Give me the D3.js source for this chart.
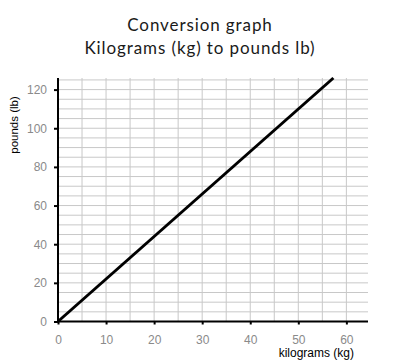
<!DOCTYPE html>
<html><head><meta charset="utf-8">
<script src="https://cdn.jsdelivr.net/npm/d3@7"></script>
<style>body{margin:0;background:#fff}</style>
</head><body>
<svg id="c" width="400" height="360"></svg>
<script>
const titleLines = ["Conversion graph", "Kilograms (kg) to pounds lb)"];
const kg = [0, 57.3];
const lb = [0, 126];
const xTicks = [0, 10, 20, 30, 40, 50, 60];
const yTicks = [0, 20, 40, 60, 80, 100, 120];
const xGrid = [5, 10, 15, 20, 25, 30, 35, 40, 45, 50, 55, 60];
const yGrid = [5,10,15,20,25,30,35,40,45,50,55,60,65,70,75,80,85,90,95,100,105,110,115,120,125];

const svg = d3.select("#c");
const L = 58, R = 368, T = 78, B = 321.5;
const x = d3.scaleLinear().domain([0, 64.5]).range([L, R]);
const y = d3.scaleLinear().domain([0, 126]).range([B, T]);

const font = "'Liberation Sans', Calibri, sans-serif";
titleLines.forEach((t, i) => {
  svg.append("text").attr("x", 200).attr("y", 31 + i * 23).attr("text-anchor", "middle")
    .attr("font-family", "Lato, sans-serif").attr("font-weight", 400)
    .attr("font-size", 17).attr("letter-spacing", 0.9).attr("fill", "#1a1a1a")
    .text(t);
});

const g = svg.append("g");
g.selectAll("line.xg").data(xGrid).join("line").attr("class","xg")
  .attr("x1", d => x(d)).attr("x2", d => x(d)).attr("y1", T).attr("y2", B)
  .attr("stroke", "#c8c8c8").attr("stroke-width", 1);
g.selectAll("line.yg").data(yGrid).join("line").attr("class","yg")
  .attr("x1", L).attr("x2", R).attr("y1", d => y(d)).attr("y2", d => y(d))
  .attr("stroke", "#c8c8c8").attr("stroke-width", 1);

const line = d3.line().x(d => x(d[0])).y(d => y(d[1]));
svg.append("path").datum(kg.map((k, i) => [k, lb[i]]))
  .attr("d", line).attr("fill", "none").attr("stroke", "#000").attr("stroke-width", 3);

const xa = svg.append("g").attr("transform", `translate(0,${B})`)
  .call(d3.axisBottom(x).tickValues(xTicks).tickSize(3).tickPadding(11));
xa.select(".domain").remove();
xa.selectAll(".tick line").attr("stroke", "#000").attr("stroke-width", 2);
xa.selectAll(".tick text").attr("fill", "#8a8a8a").attr("font-family", font).attr("font-size", 12);
svg.append("line").attr("x1", L - 1).attr("x2", R).attr("y1", B).attr("y2", B).attr("stroke", "#000").attr("stroke-width", 2);

const ya = svg.append("g").attr("transform", `translate(${L},0)`)
  .call(d3.axisLeft(y).tickValues(yTicks).tickSize(4).tickPadding(7));
ya.select(".domain").remove();
ya.selectAll(".tick line").attr("stroke", "#000").attr("stroke-width", 2);
ya.selectAll(".tick text").attr("fill", "#8a8a8a").attr("font-family", font).attr("font-size", 12);
svg.append("line").attr("x1", L).attr("x2", L).attr("y1", T).attr("y2", B + 1).attr("stroke", "#000").attr("stroke-width", 2);

svg.append("text").attr("transform", `translate(18,125) rotate(-90)`)
  .attr("text-anchor", "middle").attr("font-family", font)
  .attr("font-size", 11.5).attr("fill", "#000").text("pounds (lb)");
svg.append("text").attr("x", 354).attr("y", 357).attr("text-anchor", "end")
  .attr("font-family", font)
  .attr("font-size", 12).attr("fill", "#000").text("kilograms (kg)");
</script>
</body></html>
